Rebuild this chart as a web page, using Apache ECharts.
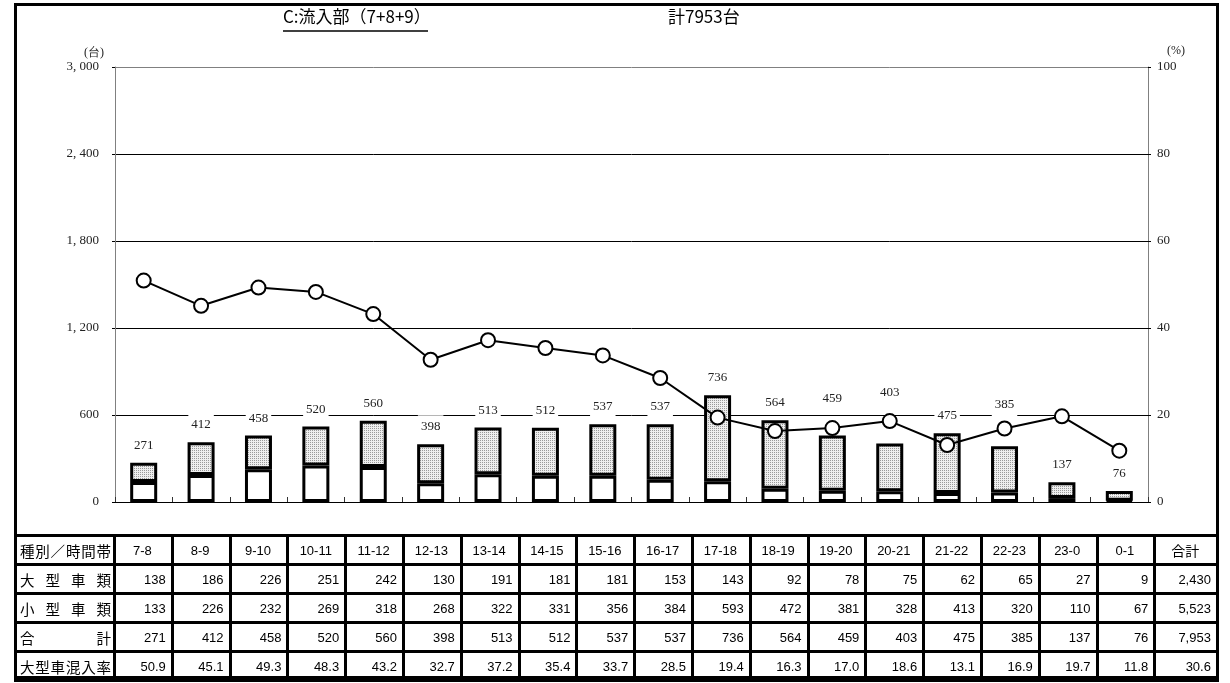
<!DOCTYPE html>
<html><head><meta charset="utf-8">
<script src="https://cdn.jsdelivr.net/npm/echarts@6/dist/echarts.min.js"></script>
<style>
body{margin:0;background:#fff;width:1230px;height:683px;overflow:hidden;}
#chart{position:absolute;left:0;top:0;width:1230px;height:683px;}
#frame{position:absolute;left:14px;top:3px;width:1199px;height:670px;border:3px solid #000;pointer-events:none;}
#tbl{position:absolute;left:14px;top:534px;border-collapse:collapse;table-layout:fixed;width:1202px;font-family:"Liberation Sans","Noto Sans CJK JP",sans-serif;font-size:13px;color:#000;}
#tbl td{border:3px solid #000;padding:0 5px 0 3px;height:23px;white-space:nowrap;overflow:hidden;}
#tbl tr{height:29px;}
#tbl td.num{text-align:right;}
#tbl td.hd{text-align:center;}
#tbl td.lab{padding:0 2px 0 3px;font-family:"Noto Sans CJK JP",sans-serif;font-size:14.5px;}
#tbl td.lab div{display:flex;justify-content:space-between;}
#tbl tr.r1 td{border-bottom:3px dotted #000;}
#tbl td.sum{font-family:"Noto Sans CJK JP",sans-serif;font-size:14px;}
</style>
</head><body>
<div id="chart"></div>
<table id="tbl"></table>
<div id="frame"></div>
<script>
const categories = ['7-8','8-9','9-10','10-11','11-12','12-13','13-14','14-15','15-16','16-17','17-18','18-19','19-20','20-21','21-22','22-23','23-0','0-1'];
const largeVehicles = [138,186,226,251,242,130,191,181,181,153,143,92,78,75,62,65,27,9];
const smallVehicles = [133,226,232,269,318,268,322,331,356,384,593,472,381,328,413,320,110,67];
const totals = [271,412,458,520,560,398,513,512,537,537,736,564,459,403,475,385,137,76];
const largeRatio = [50.9,45.1,49.3,48.3,43.2,32.7,37.2,35.4,33.7,28.5,19.4,16.3,17.0,18.6,13.1,16.9,19.7,11.8];
const grandTotals = [2430, 5523, 7953, 30.6];
const leftTickLabels = ['0','600','1, 200','1, 800','2, 400','3, 000'];
const rightTickLabels = ['0','20','40','60','80','100'];
const rowLabels = ['大型車類','小型車類','合計','大型車混入率'];
const headerLabel = '種別／時間帯';
const totalHeader = '合計';
const titleText = 'C:流入部（7+8+9）';
const totalText = '計7953台';

// label placement tweaks (pixels lifted, to keep labels clear of the line, as in the source)
const labelLift = {12: 19, 13: 33, 15: 24};

// dotted pattern
const pc = document.createElement('canvas');
pc.width = 4; pc.height = 4;
const g = pc.getContext('2d');
g.fillStyle = '#eeeeee'; g.fillRect(0,0,4,4);
g.fillStyle = '#999999';
g.fillRect(0,0,1,1); g.fillRect(2,2,1,1); g.fillRect(2,0,1,1); g.fillRect(0,2,1,1);

const serif = '"Liberation Serif", "DejaVu Serif", serif';
const smallData = smallVehicles.map((v, i) => labelLift[i] ? {value: v, label: {offset: [0, -labelLift[i]]}} : v);

const chart = echarts.init(document.getElementById('chart'), null, {renderer:'canvas'});
chart.setOption({
  animation: false,
  backgroundColor: '#fff',
  grid: {left:115, right:82, top:67, bottom:181, containLabel:false},
  graphic: [
    {type:'text', left:283, top:8, style:{text:titleText, font:'17px "Noto Sans CJK JP", sans-serif', fill:'#000'}},
    {type:'line', shape:{x1:283,y1:31,x2:428,y2:31}, style:{stroke:'#000', lineWidth:1.5}},
    {type:'text', left:668, top:8, style:{text:totalText, font:'17px "Noto Sans CJK JP", sans-serif', fill:'#000'}},
    {type:'text', left:84, top:47, style:{text:'(台)', font:'12px ' + serif, fill:'#222'}},
    {type:'text', left:1167, top:45, style:{text:'(%)', font:'12px ' + serif, fill:'#222'}}
  ],
  xAxis: {
    type:'category', data:categories,
    axisLine:{lineStyle:{color:'#000', width:1}},
    axisTick:{show:true, inside:true, length:5, lineStyle:{color:'#333'}},
    axisLabel:{show:false},
    splitLine:{show:false}
  },
  yAxis: [
    {
      type:'value', min:0, max:3000, interval:600,
      axisLine:{show:true, lineStyle:{color:'#808080'}},
      axisTick:{show:true, length:3, lineStyle:{color:'#000'}},
      axisLabel:{margin:16, fontFamily:serif, fontSize:13, color:'#222',
        formatter: v => leftTickLabels[Math.round(v/600)]},
      splitLine:{show:true, lineStyle:{color:['#000','#000','#000','#000','#000','#808080'], width:1}}
    },
    {
      type:'value', min:0, max:100, interval:20, position:'right',
      axisLine:{show:true, lineStyle:{color:'#808080'}},
      axisTick:{show:true, length:3, lineStyle:{color:'#000'}},
      axisLabel:{margin:9, fontFamily:serif, fontSize:13, color:'#222',
        formatter: v => rightTickLabels[Math.round(v/20)]},
      splitLine:{show:false}
    }
  ],
  series: [
    {
      name:'大型車類', type:'bar', stack:'t', data:largeVehicles, barWidth:27,
      itemStyle:{color:'#fff', borderColor:'#000', borderWidth:3}
    },
    {
      name:'小型車類', type:'bar', stack:'t', data:smallData, barWidth:27,
      itemStyle:{color:{image:pc, repeat:'repeat'}, borderColor:'#000', borderWidth:3},
      label:{show:true, position:'top', distance:6, formatter: p => String(totals[p.dataIndex]),
        fontFamily:serif, fontSize:13, color:'#222', backgroundColor:'#fff', padding:[5,3,5,3], lineHeight:13}
    },
    {
      name:'大型車混入率', type:'line', yAxisIndex:1, data:largeRatio, z:10,
      symbol:'circle', symbolSize:14,
      lineStyle:{color:'#000', width:2},
      itemStyle:{color:'#fff', borderColor:'#000', borderWidth:2}
    }
  ]
});

// table
const fmt = v => v.toLocaleString('en-US');
const tbl = document.getElementById('tbl');
let html = '<colgroup><col style="width:99px">';
for (let i=0;i<categories.length;i++) html += '<col style="width:57.8px">';
html += '<col style="width:62.6px"></colgroup>';
const lab = s => '<td class="lab"><div>' + [...s].map(c=>'<span>'+c+'</span>').join('') + '</div></td>';
html += '<tr>' + lab(headerLabel) + categories.map(c=>'<td class="hd">'+c+'</td>').join('') + '<td class="hd sum">'+totalHeader+'</td></tr>';
const rows = [largeVehicles, smallVehicles, totals];
rows.forEach((arr, ri) => {
  html += '<tr class="r'+(ri+1)+'">' + lab(rowLabels[ri]) + arr.map(v=>'<td class="num">'+fmt(v)+'</td>').join('') + '<td class="num">'+fmt(grandTotals[ri])+'</td></tr>';
});
html += '<tr>' + lab(rowLabels[3]) + largeRatio.map(v=>'<td class="num">'+v.toFixed(1)+'</td>').join('') + '<td class="num">'+grandTotals[3].toFixed(1)+'</td></tr>';
tbl.innerHTML = html;
</script>
</body></html>
